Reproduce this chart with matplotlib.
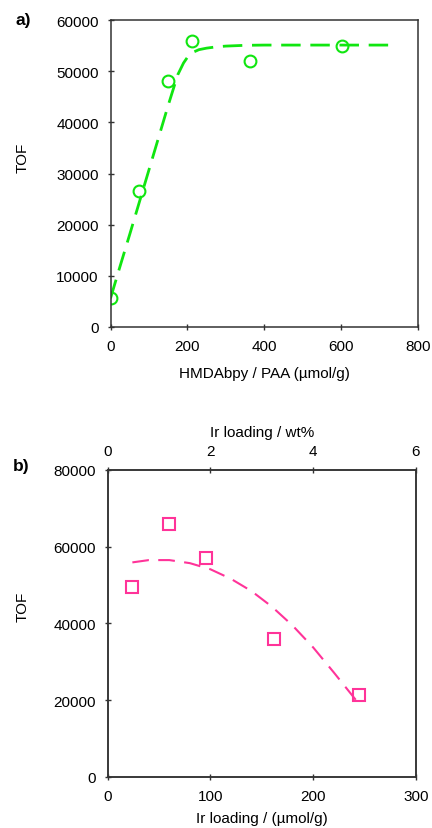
import matplotlib
matplotlib.use("Agg")
import matplotlib.pyplot as plt

plt.rcParams['font.family'] = ['Liberation Sans', 'DejaVu Sans']
plt.rcParams['font.size'] = 11

# panel a: TOF vs ligand content
lig_x = [0, 75, 150, 212, 362, 603]
lig_tof = [5700, 26500, 48000, 55900, 51900, 55000]
lig_fit_x = [0, 25, 50, 75, 100, 125, 150, 175, 190, 200, 215, 230, 250, 275, 300, 350, 400, 500, 600, 734]
lig_fit_y = [5600, 11900, 18100, 24400, 30700, 37000, 43300, 49300, 51600, 52700, 53700, 54200, 54500, 54750, 54900, 55050, 55100, 55100, 55100, 55100]

# panel b: TOF vs Ir loading
ir_x = [24, 60, 96, 162, 245]
ir_tof = [49500, 65800, 57000, 36000, 21300]
ir_fit_x = [24, 40, 60, 80, 100, 120, 140, 160, 180, 200, 220, 246]
ir_fit_y = [55900, 56500, 56500, 55700, 54100, 51600, 48400, 44300, 39400, 33700, 27200, 18500]

green = '#10e610'
pink = '#ff3399'
spine_col = '#333333'

fig = plt.figure(figsize=(4.32, 8.29), dpi=100)
W, H = 432, 829

def style(ax):
    for s in ax.spines.values():
        s.set_color(spine_col)
        s.set_linewidth(1.1)
    ax.tick_params(direction='inout', length=5, width=1.0, color=spine_col, labelsize=11, pad=6)

ax1 = fig.add_axes([110.5 / W, 1 - 328 / H, 307.5 / W, 307 / H])
ax1.plot(lig_fit_x, lig_fit_y, color=green, lw=2.0, dashes=(7, 3.5))
ax1.plot(lig_x, lig_tof, 'o', mfc='none', mec=green, mew=1.5, ms=8.5)
ax1.set_xlim(0, 800)
ax1.set_ylim(0, 60000)
ax1.set_xticks([0, 200, 400, 600, 800])
ax1.set_yticks(range(0, 60001, 10000))
style(ax1)
fig.text(264 / W, 1 - 374 / H, 'HMDAbpy / PAA (µmol/g)', ha='center', va='center', fontsize=11)
fig.text(23 / W, 1 - 158 / H, 'TOF', rotation=90, ha='center', va='center', fontsize=11)
fig.text(23 / W, 1 - 21 / H, 'a)', fontweight='bold', fontsize=12.5, ha='center', va='center')

ax2 = fig.add_axes([107.7 / W, 1 - 777.7 / H, 308.3 / W, 306.7 / H])
ax2.plot(ir_fit_x, ir_fit_y, color=pink, lw=1.5, dashes=(8, 4.5))
ax2.plot(ir_x, ir_tof, 's', mfc='none', mec=pink, mew=1.5, ms=8.5)
ax2.set_xlim(0, 300)
ax2.set_ylim(0, 80000)
ax2.set_xticks([0, 100, 200, 300])
ax2.set_yticks(range(0, 80001, 20000))
style(ax2)

top = ax2.twiny()
top.set_xlim(0, 6)
top.set_xticks([0, 2, 4, 6])
style(top)
fig.text(262 / W, 1 - 433 / H, 'Ir loading / wt%', ha='center', va='center', fontsize=11)
fig.text(262 / W, 1 - 819 / H, 'Ir loading / (µmol/g)', ha='center', va='center', fontsize=11)
fig.text(23 / W, 1 - 607 / H, 'TOF', rotation=90, ha='center', va='center', fontsize=11)
fig.text(21 / W, 1 - 467 / H, 'b)', fontweight='bold', fontsize=12.5, ha='center', va='center')

fig.savefig('out.png', dpi=100)
